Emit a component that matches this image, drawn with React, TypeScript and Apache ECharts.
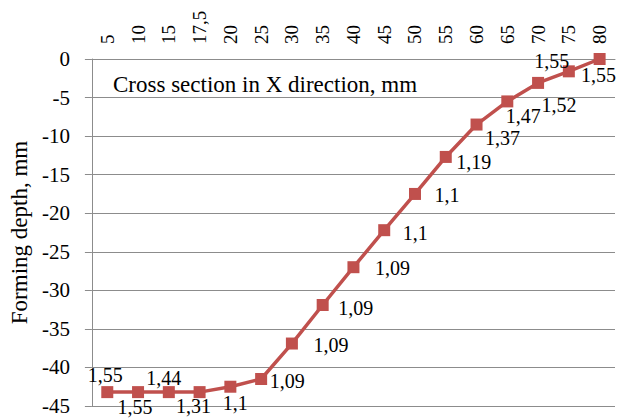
import React, { useEffect, useRef } from "react";
import * as echarts from "echarts";

const categories = ["5", "10", "15", "17,5", "20", "25", "30", "35", "40", "45", "50", "55", "60", "65", "70", "75", "80"];
const depthValues = [-43.2, -43.2, -43.2, -43.2, -42.5, -41.5, -36.9, -31.9, -27.0, -22.2, -17.5, -12.7, -8.5, -5.5, -3.1, -1.6, 0];
const thicknessLabels = ["1,55", "1,55", "1,44", "1,31", "1,1", "1,09", "1,09", "1,09", "1,09", "1,1", "1,1", "1,19", "1,37", "1,47", "1,52", "1,55", "1,55"];
const yTicks = { min: -45, max: 0, interval: 5 };
const titleText = "Cross section in X direction, mm";
const yAxisName = "Forming depth, mm";

// label placement (style), offsets from the marker centre
const LABEL_OFFSETS: [number, number][] = [
  [-2, -17], [-3, 15], [-5, -14], [-6, 14], [5, 16], [26, 2], [39, 1], [33, 3], [39, 1],
  [31, 3], [32, 1], [28, 5], [26, 13], [16, 15], [21, 22], [-17, -10], [-1, 16],
];

const FONT = '"Liberation Serif", "Times New Roman", serif';
const GRID_COLOR = "#8c8c8c";
const RED = "#C0504D";

export default function App() {
  const ref = useRef<HTMLDivElement>(null);
  useEffect(() => {
    if (!ref.current) return;
    const chart = echarts.init(ref.current, undefined, { renderer: "svg" });
    const data = depthValues.map((v, i) => ({
      value: v,
      label: {
        show: true,
        position: "inside" as const,
        offset: LABEL_OFFSETS[i],
        formatter: thicknessLabels[i],
        align: "center" as const,
        verticalAlign: "middle" as const,
        fontSize: 20,
        fontFamily: FONT,
        color: "#000",
      },
    }));
    chart.setOption({
      animation: false,
      backgroundColor: "#fff",
      title: {
        text: titleText,
        left: 108,
        top: 68,
        textStyle: { fontSize: 23, fontWeight: "normal", fontFamily: FONT, color: "#000" },
      },
      grid: { left: 87, top: 59, right: 8, bottom: 13, containLabel: false },
      xAxis: {
        type: "category",
        position: "top",
        data: categories,
        boundaryGap: true,
        axisLine: { show: true, lineStyle: { color: GRID_COLOR, width: 1 } },
        axisTick: { show: false },
        axisLabel: {
          rotate: 90,
          margin: 15,
          fontSize: 19,
          fontFamily: FONT,
          color: "#000",
          interval: 0,
        },
        splitLine: { show: false },
      },
      yAxis: {
        type: "value",
        min: yTicks.min,
        max: yTicks.max,
        interval: yTicks.interval,
        name: yAxisName,
        nameLocation: "middle",
        nameGap: 53,
        nameTextStyle: { fontSize: 23, fontFamily: FONT, color: "#000" },
        axisLine: { show: true, lineStyle: { color: GRID_COLOR, width: 1 } },
        axisTick: { show: true, length: 7, lineStyle: { color: GRID_COLOR } },
        axisLabel: { margin: 22, fontSize: 21, fontFamily: FONT, color: "#000" },
        splitLine: { show: true, lineStyle: { color: GRID_COLOR, width: 1 } },
      },
      series: [
        {
          type: "line",
          data,
          symbol: "rect",
          symbolSize: 12,
          itemStyle: { color: RED },
          lineStyle: { color: RED, width: 3.5 },
        },
      ],
    });
    return () => chart.dispose();
  }, []);
  return (
    <div
      ref={ref}
      style={{ position: "fixed", left: 0, top: 0, width: 623, height: 419, background: "#fff" }}
    />
  );
}
